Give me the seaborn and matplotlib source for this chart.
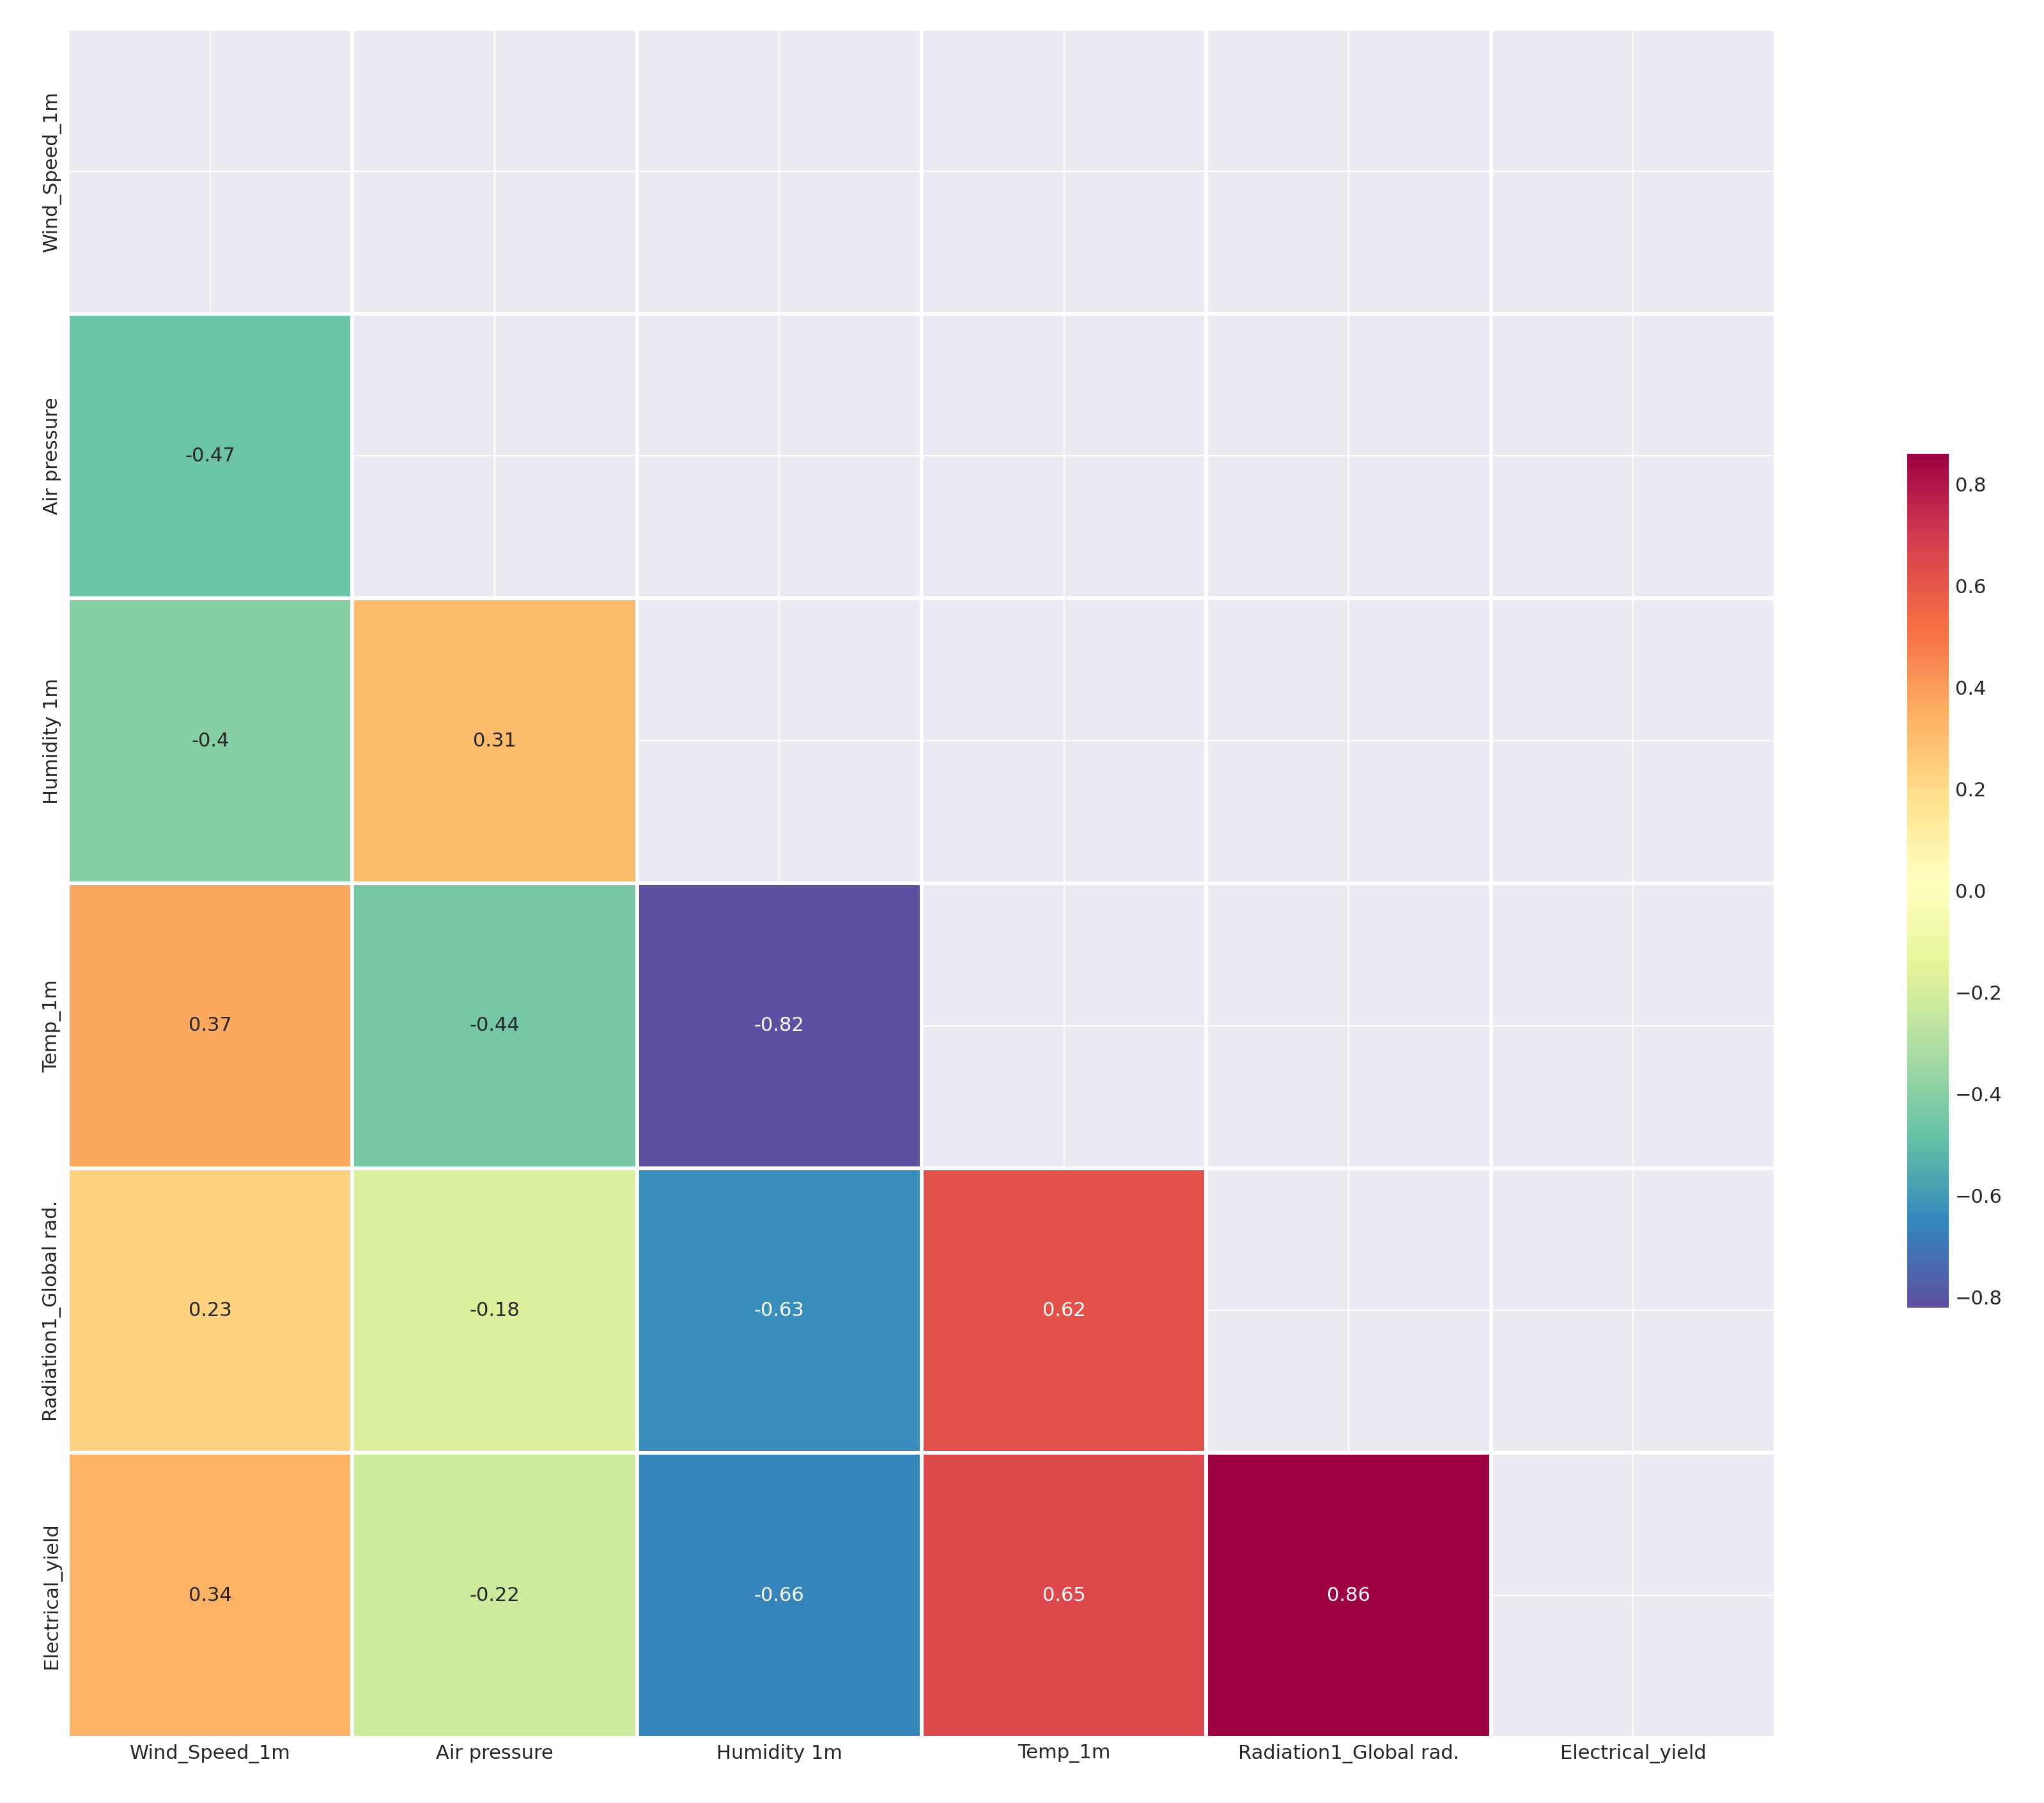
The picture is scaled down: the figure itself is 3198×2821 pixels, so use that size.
import numpy as np
import pandas as pd
import seaborn as sns
import matplotlib
matplotlib.use("Agg")
import matplotlib.pyplot as plt

labels = ["Wind_Speed_1m", "Air pressure", "Humidity 1m", "Temp_1m",
          "Radiation1_Global rad.", "Electrical_yield"]
row_air = [-0.47]
row_hum = [-0.4, 0.31]
row_temp = [0.37, -0.44, -0.82]
row_rad = [0.23, -0.18, -0.63, 0.62]
row_elec = [0.34, -0.22, -0.66, 0.65, 0.86]

rows = [[], row_air, row_hum, row_temp, row_rad, row_elec]
n = len(labels)
mat = np.eye(n)
for i, r in enumerate(rows):
    for j, v in enumerate(r):
        mat[i, j] = v
        mat[j, i] = v
df = pd.DataFrame(mat, index=labels, columns=labels)
mask = np.triu(np.ones_like(mat, dtype=bool))

sns.set_style("darkgrid")
fig = plt.figure(figsize=(15.99, 14.105), dpi=200)
ax = fig.add_axes([52/1568, 1 - 1333/1383, 1310/1568, 1311/1383])
cax = fig.add_axes([1463/1568, 1 - 1003/1383, 32/1568, 655/1383])
sns.heatmap(df, mask=mask, cmap="Spectral_r", annot=True, linewidths=1.5,
            linecolor="white", ax=ax, cbar_ax=cax,
            annot_kws={"fontsize": 11})
ax.tick_params(axis="both", labelsize=11, length=0)
ax.set_yticklabels(labels, rotation=90, va="center")
ax.set_xticklabels(labels, rotation=0)
cax.tick_params(labelsize=11, length=0)
cax.set_yticks([-0.8, -0.6, -0.4, -0.2, 0.0, 0.2, 0.4, 0.6, 0.8])
fig.savefig("out.png", dpi=200)
